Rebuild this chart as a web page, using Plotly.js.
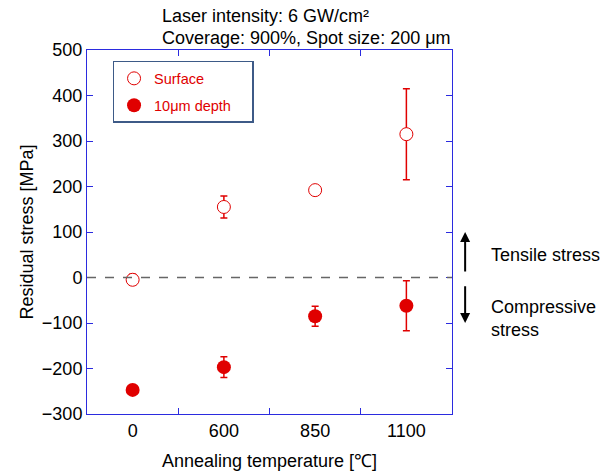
<!DOCTYPE html>
<html><head><meta charset="utf-8">
<script src="https://cdn.plot.ly/plotly-3.0.1.min.js"></script>
<style>body{margin:0}#c{width:613px;height:472px}</style>
</head><body><div id="c"></div>
<script>
const temps = ['0', '600', '850', '1100'];
const surfaceStress = [-5, 155, 192, 315];
const surfaceErr = [12, 24, 5, 100];
const depthStress = [-247, -197, -85, -62];
const depthErr = [4, 23, 22, 55];
const seriesNames = ['Surface', '10μm depth'];

const red = '#e00000';
const blue = '#2b2bdf';
const font = 'Liberation Sans, Arial, sans-serif';
const pad = '\u00a0\u00a0\u00a0\u00a0';

const traces = [
  {x: temps, y: surfaceStress, name: seriesNames[0], type: 'scatter', mode: 'markers',
   legendgroup: 'a',
   marker: {symbol: 'circle', size: 13, color: 'white', line: {color: red, width: 1}},
   error_y: {type: 'data', array: surfaceErr, visible: true, color: red, thickness: 1.5, width: 3.5}},
  {x: temps, y: depthStress, name: seriesNames[1] + pad, type: 'scatter', mode: 'markers',
   legendgroup: 'b',
   marker: {symbol: 'circle', size: 14, color: red, line: {color: red, width: 0}},
   error_y: {type: 'data', array: depthErr, visible: true, color: red, thickness: 1.5, width: 3.5}}
];

const layout = {
  width: 613, height: 472,
  margin: {l: 87, r: 161, t: 50, b: 58},
  paper_bgcolor: 'white', plot_bgcolor: 'white',
  font: {family: font, color: 'black', size: 18},
  showlegend: true,
  legend: {x: 0.07, y: 0.97, xanchor: 'left', yanchor: 'top',
    bgcolor: 'white', bordercolor: '#3d5a87', borderwidth: 1.5,
    font: {color: red, size: 14.5, family: font}, tracegroupgap: 5},
  xaxis: {type: 'category', range: [-0.5, 3.5], tickson: 'boundaries',
    showline: true, linecolor: blue, linewidth: 1, mirror: 'ticks',
    ticks: 'inside', ticklen: 6, tickcolor: blue, showgrid: false, zeroline: false,
    tickfont: {size: 18}, title: {text: 'Annealing temperature [℃]', font: {size: 18}, standoff: 14}},
  yaxis: {range: [-300, 500], dtick: 100, showline: true, linecolor: blue, linewidth: 1,
    mirror: 'ticks', ticks: 'inside', ticklen: 6, tickcolor: blue, showgrid: false, zeroline: false,
    tickfont: {size: 18}, title: {text: 'Residual stress [MPa]', font: {size: 18}, standoff: 3}},
  shapes: [
    {type: 'line', xref: 'paper', x0: 0, x1: 1, yref: 'y', y0: 0, y1: 0,
     line: {color: '#666666', width: 1.5, dash: 'dash'}}
  ],
  annotations: [
    {xref: 'paper', yref: 'paper', x: 0.2, y: 1.0, yshift: 34, xanchor: 'left', yanchor: 'middle', align: 'left',
     showarrow: false, text: 'Laser intensity: 6 GW/cm²', font: {size: 18}},
    {xref: 'paper', yref: 'paper', x: 0.2, y: 1.0, yshift: 12, xanchor: 'left', yanchor: 'middle', align: 'left',
     showarrow: false, text: 'Coverage: 900%, Spot size: 200 μm', font: {size: 18}},
    {xref: 'paper', yref: 'y', x: 1.036, y: 100, axref: 'pixel', ax: 0, ayref: 'y', ay: 10,
     showarrow: true, arrowhead: 2, arrowsize: 1, arrowwidth: 2, arrowcolor: 'black', text: ''},
    {xref: 'paper', yref: 'y', x: 1.036, y: -100, axref: 'pixel', ax: 0, ayref: 'y', ay: -16,
     showarrow: true, arrowhead: 2, arrowsize: 1, arrowwidth: 2, arrowcolor: 'black', text: ''},
    {xref: 'paper', yref: 'y', x: 1.1, y: 49, xanchor: 'left', yanchor: 'middle', align: 'left',
     showarrow: false, text: 'Tensile stress', font: {size: 18}},
    {xref: 'paper', yref: 'y', x: 1.1, y: -89, xanchor: 'left', yanchor: 'middle', align: 'left',
     showarrow: false, text: 'Compressive<br>stress', font: {size: 18}}
  ]
};

Plotly.newPlot('c', traces, layout, {displayModeBar: false, staticPlot: true});
</script></body></html>
